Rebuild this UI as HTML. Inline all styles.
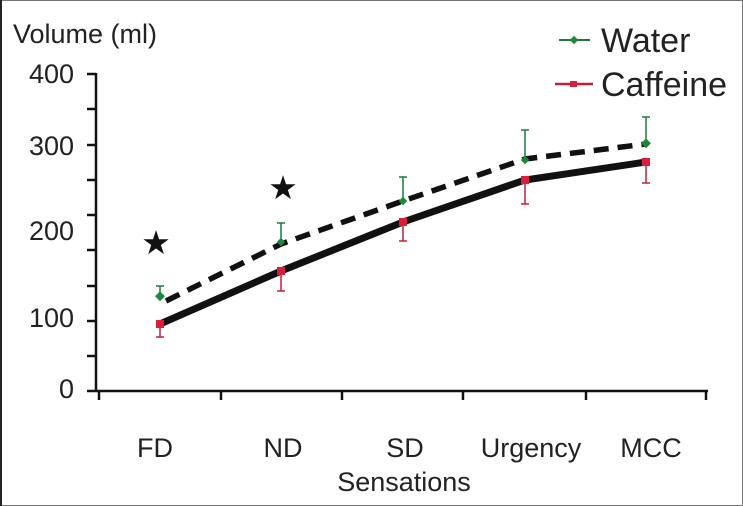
<!DOCTYPE html>
<html><head><meta charset="utf-8"><style>
html,body{margin:0;padding:0;background:#fff}
svg{display:block}
text{font-family:"Liberation Sans",Arial,sans-serif;fill:#222}
</style></head><body>
<svg width="743" height="506" viewBox="0 0 743 506" xmlns="http://www.w3.org/2000/svg">
<rect x="0.5" y="0.5" width="742" height="505" fill="#fff" stroke="#777"/>
<line x1="1" y1="0" x2="1" y2="506" stroke="#222" stroke-width="2"/>
<text x="13" y="43" font-size="27">Volume (ml)</text>
<g stroke="#111" stroke-width="2.5">
<line x1="96" y1="73" x2="96" y2="392"/>
<line x1="87" y1="391" x2="708" y2="391"/>
<line x1="87" y1="74" x2="96" y2="74"/><line x1="87" y1="109" x2="96" y2="109"/>
<line x1="87" y1="145" x2="96" y2="145"/><line x1="87" y1="180" x2="96" y2="180"/>
<line x1="87" y1="215" x2="96" y2="215"/><line x1="87" y1="250" x2="96" y2="250"/>
<line x1="87" y1="286" x2="96" y2="286"/><line x1="87" y1="321" x2="96" y2="321"/>
<line x1="87" y1="356" x2="96" y2="356"/>
<line x1="99" y1="391" x2="99" y2="400"/><line x1="221" y1="391" x2="221" y2="400"/>
<line x1="342" y1="391" x2="342" y2="400"/><line x1="463" y1="391" x2="463" y2="400"/>
<line x1="586" y1="391" x2="586" y2="400"/><line x1="706" y1="391" x2="706" y2="400"/>
</g>
<g font-size="27" text-anchor="end">
<text x="74" y="83">400</text><text x="74" y="155">300</text>
<text x="74" y="240">200</text><text x="74" y="327">100</text><text x="74" y="398">0</text>
</g>
<g font-size="27" text-anchor="middle">
<text x="155" y="457">FD</text><text x="283" y="457">ND</text><text x="405" y="457">SD</text>
<text x="531" y="457">Urgency</text><text x="651" y="457">MCC</text>
<text x="404" y="491">Sensations</text>
</g>
<g stroke="#1a7a3a" stroke-width="1.5">
<line x1="160" y1="297" x2="160" y2="286"/><line x1="156" y1="286" x2="164" y2="286"/>
<line x1="281" y1="242" x2="281" y2="223"/><line x1="277" y1="223" x2="285" y2="223"/>
<line x1="403" y1="201" x2="403" y2="177"/><line x1="399" y1="177" x2="407" y2="177"/>
<line x1="525" y1="160" x2="525" y2="130"/><line x1="521" y1="130" x2="529" y2="130"/>
<line x1="646" y1="144" x2="646" y2="117"/><line x1="642" y1="117" x2="650" y2="117"/>
</g>
<g stroke="#c0203a" stroke-width="1.5">
<line x1="160" y1="324" x2="160" y2="337"/><line x1="156" y1="337" x2="164" y2="337"/>
<line x1="281" y1="271" x2="281" y2="291"/><line x1="277" y1="291" x2="285" y2="291"/>
<line x1="403" y1="222" x2="403" y2="241"/><line x1="399" y1="241" x2="407" y2="241"/>
<line x1="525" y1="180" x2="525" y2="204"/><line x1="521" y1="204" x2="529" y2="204"/>
<line x1="646" y1="162" x2="646" y2="183"/><line x1="642" y1="183" x2="650" y2="183"/>
</g>
<polyline points="166,301 281,244 403,201 525,159 646,144" fill="none" stroke="#111" stroke-width="5.5" stroke-dasharray="15,9"/>
<polyline points="160,324 281,271 403,222 525,180 646,162" fill="none" stroke="#111" stroke-width="7"/>
<g fill="#1a8a3a">
<rect x="156" y="293" width="7" height="7" transform="rotate(45 160 297)"/>
<rect x="278" y="239" width="6" height="6" transform="rotate(45 281 242)"/>
<rect x="400" y="198" width="6" height="6" transform="rotate(45 403 201)"/>
<rect x="522" y="157" width="6" height="6" transform="rotate(45 525 160)"/>
<rect x="642" y="140" width="7" height="7" transform="rotate(45 646 144)"/>
</g>
<g fill="#d81e3a">
<rect x="156" y="320" width="8" height="8"/><rect x="277" y="267" width="8" height="8"/>
<rect x="399" y="218" width="8" height="8"/><rect x="521" y="176" width="8" height="8"/>
<rect x="642" y="158" width="8" height="8"/>
</g>
<g font-size="33" text-anchor="middle">
<text x="156" y="254" style="fill:#111">★</text>
<text x="283" y="199" style="fill:#111">★</text>
</g>
<line x1="559" y1="40" x2="590" y2="40" stroke="#1a7a3a" stroke-width="2"/>
<rect x="571" y="37" width="6" height="6" fill="#1a8a3a" transform="rotate(45 574 40)"/>
<line x1="555" y1="84" x2="593" y2="84" stroke="#c0203a" stroke-width="2.5"/>
<rect x="570" y="81" width="7" height="6" fill="#d81e3a"/>
<text x="601" y="52" font-size="34">Water</text>
<text x="601" y="96" font-size="34">Caffeine</text>
</svg>
</body></html>
